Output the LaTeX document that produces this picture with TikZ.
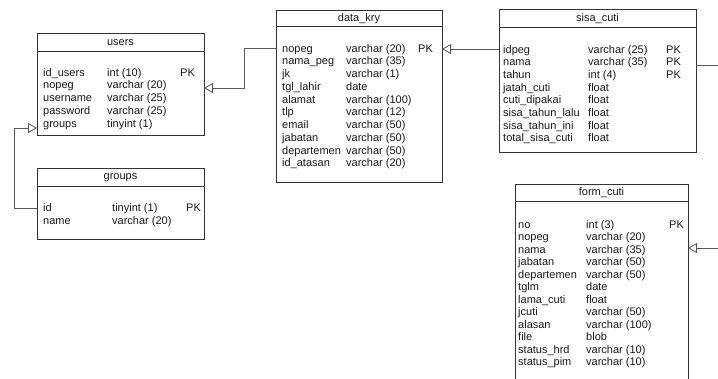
\documentclass[tikz,border=0pt]{standalone}
\usepackage{fontspec}
\setmainfont{Liberation Sans}
\usetikzlibrary{arrows.meta,positioning}

\begin{document}
\begin{tikzpicture}[x=1pt,y=-1pt,
        font=\fontsize{11}{13}\selectfont,
        tbl/.style={draw=black!80,line width=0.8pt,anchor=north west,
            inner sep=0pt,outer sep=0pt},
        ttl/.style={inner sep=0pt,minimum height=18pt,text=black!90},
        fld/.style={anchor=west,inner sep=0pt,text height=8pt,text depth=2pt,
            text=black!90},
        sepline/.style={draw=black!80,line width=0.8pt},
        fk/.style={draw=black!65,line width=0.8pt,
            -{Triangle[open,length=9pt,width=10pt]}}]
        \useasboundingbox (0,0) rectangle (718,378);
        \fill[white] (0,0) rectangle (718,378);
        \clip (0,0) rectangle (718,378);

        \node[tbl,minimum width=167pt,minimum height=102pt] (users)  at (37,33)  {};
        \node[tbl,minimum width=167pt,minimum height=71pt]  (groups) at (37,168) {};
        \node[tbl,minimum width=166pt,minimum height=172pt] (kry)    at (276,10) {};
        \node[tbl,minimum width=197pt,minimum height=143pt] (sisa)   at (499,9)  {};
        \node[tbl,minimum width=173pt,minimum height=215pt] (form)   at (515,184) {};

        \node[ttl,below=0pt of users.north]  (users-t)  {users};
        \node[ttl,below=0pt of groups.north] (groups-t) {groups};
        \node[ttl,below=0pt of kry.north,minimum height=16pt]  (kry-t)  {data\_kry};
        \node[ttl,below=0pt of sisa.north]   (sisa-t)   {sisa\_cuti};
        \node[ttl,below=0pt of form.north,minimum height=17pt] (form-t) {form\_cuti};

        \draw[sepline] (users-t.south -| users.west)   -- (users-t.south -| users.east);
        \draw[sepline] (groups-t.south -| groups.west) -- (groups-t.south -| groups.east);
        \draw[sepline] (kry-t.south -| kry.west)       -- (kry-t.south -| kry.east);
        \draw[sepline] (sisa-t.south -| sisa.west)     -- (sisa-t.south -| sisa.east);
        \draw[sepline] (form-t.south -| form.west)     -- (form-t.south -| form.east);

        \foreach \fname/\ftype [count=\i from 0] in {id\_users/int (10),
                nopeg/varchar (20),username/varchar (25),password/varchar (25),
                groups/tinyint (1)} {
            \node[fld] (users-n\i) at (43,73+12.75*\i)  {\fname};
            \node[fld] (users-y\i) at (107,73+12.75*\i) {\ftype};
        }
        \node[fld] (users-pk) at (180,73) {PK};

        \foreach \fname/\ftype [count=\i from 0] in {id/tinyint (1),
                name/varchar (20)} {
            \node[fld] (groups-n\i) at (43,208+13*\i)  {\fname};
            \node[fld] (groups-y\i) at (112,208+13*\i) {\ftype};
        }
        \node[fld] (groups-pk) at (186,208) {PK};

        \foreach \fname/\ftype [count=\i from 0] in {nopeg/varchar (20),
                nama\_peg/varchar (35),jk/varchar (1),tgl\_lahir/date,
                alamat/varchar (100),tlp/varchar (12),email/varchar (50),
                jabatan/varchar (50),departemen/varchar (50),
                id\_atasan/varchar (20)} {
            \node[fld] (kry-n\i) at (282,49+12.75*\i) {\fname};
            \node[fld] (kry-y\i) at (346,49+12.75*\i) {\ftype};
        }
        \node[fld] (kry-pk) at (418,49) {PK};

        \foreach \fname/\ftype [count=\i from 0] in {idpeg/varchar (25),
                nama/varchar (35),tahun/int (4),jatah\_cuti/float,
                cuti\_dipakai/float,sisa\_tahun\_lalu/float,
                sisa\_tahun\_ini/float,total\_sisa\_cuti/float} {
            \node[fld] (sisa-n\i) at (503,50+12.7*\i) {\fname};
            \node[fld] (sisa-y\i) at (588,50+12.7*\i) {\ftype};
        }
        \node[fld] (sisa-pk0) at (666,50)    {PK};
        \node[fld] (sisa-pk1) at (666,62.7)  {PK};
        \node[fld] (sisa-pk2) at (666,75.4)  {PK};

        \foreach \fname/\ftype [count=\i from 0] in {no/int (3),
                nopeg/varchar (20),nama/varchar (35),jabatan/varchar (50),
                departemen/varchar (50),tglm/date,lama\_cuti/float,
                jcuti/varchar (50),alasan/varchar (100),file/blob,
                status\_hrd/varchar (10),status\_pim/varchar (10)} {
            \node[fld] (form-n\i) at (518,225+12.5*\i) {\fname};
            \node[fld] (form-y\i) at (586,225+12.5*\i) {\ftype};
        }
        \node[fld] (form-pk) at (669,225) {PK};

        \coordinate (G1) at (14,208);
        \coordinate (G2) at (14,128);
        \coordinate (K1) at (244,48);
        \coordinate (K2) at (244,88);
        \coordinate (S1) at (470,49);
        \coordinate (F1) at (730,65);
        \coordinate (F2) at (730,248);

        \draw[fk] (groups.west |- G1) -- (G1) -- (G2) -- (users.west |- G2);
        \draw[fk] (kry.west |- K1) -- (K1) -- (K2) -- (users.east |- K2);
        \draw[fk] (sisa.west |- S1) -- (kry.east |- S1);
        \draw[fk] (sisa.east |- F1) -- (F1) -- (F2) -- (form.east |- F2);
    \end{tikzpicture}
\end{document}
